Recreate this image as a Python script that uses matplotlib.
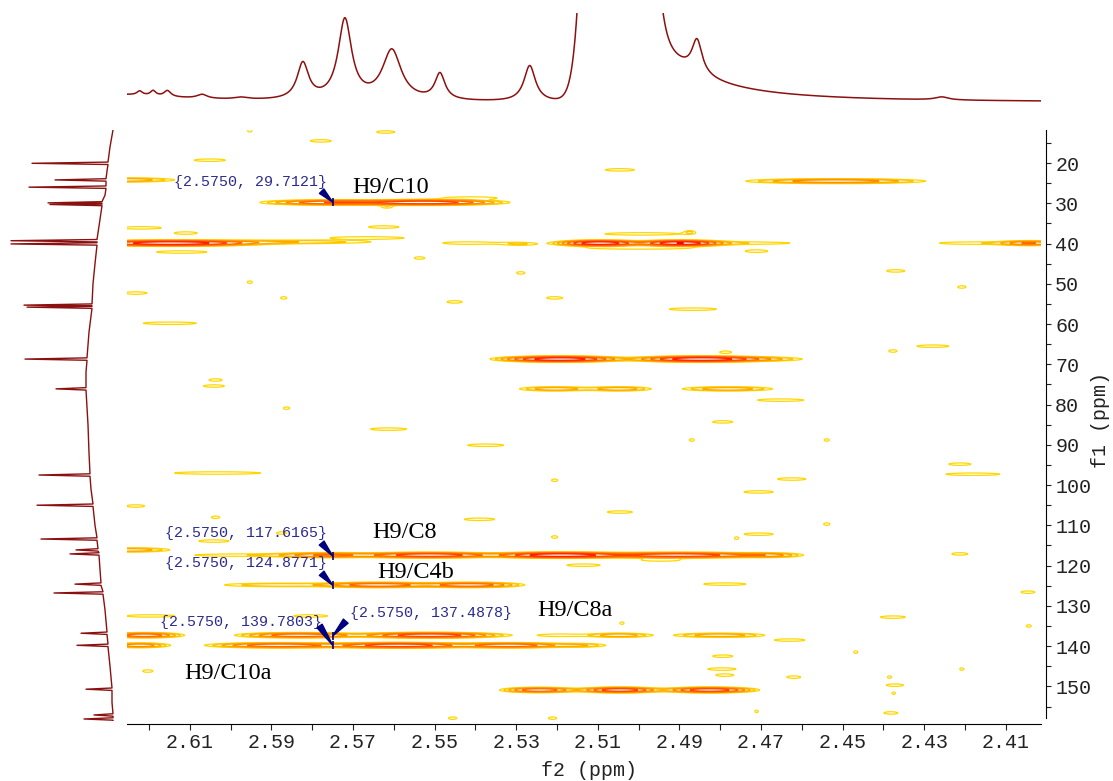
import numpy as np
import matplotlib
matplotlib.use('Agg')
import matplotlib.pyplot as plt
from matplotlib.ticker import FixedLocator, FormatStrFormatter

plt.rcParams['font.family'] = ['Liberation Mono', 'DejaVu Sans']

# axis ranges and ticks
f2_range = (2.6254, 2.4014)
f1_range = (158.6, 11.8)
f2_ticks = [2.61, 2.59, 2.57, 2.55, 2.53, 2.51, 2.49, 2.47, 2.45, 2.43, 2.41]
f2_minor = [2.62, 2.60, 2.58, 2.56, 2.54, 2.52, 2.50, 2.48, 2.46, 2.44, 2.42]
f1_ticks = [20, 30, 40, 50, 60, 70, 80, 90, 100, 110, 120, 130, 140, 150]
f1_minor = [15, 25, 35, 45, 55, 65, 75, 85, 95, 105, 115, 125, 135, 145, 155]

# 1H projection (top trace): peak position, height, half width
h_ppm = [2.6300, 2.6223, 2.6190, 2.6155, 2.6070, 2.5975, 2.5823, 2.5720,
         2.5605, 2.5487, 2.5267, 2.4857, 2.4257]
h_height = [8, 4, 5, 6, 4, 2, 36, 80, 50, 26, 36, 33, 3]
h_hw = [0.02, 0.0008, 0.0008, 0.001, 0.0015, 0.002, 0.0017, 0.002,
        0.0028, 0.0015, 0.0017, 0.0015, 0.002]
h_base = 12.5
solv_ppm = 2.5053
solv_height = 3000
solv_sigma = 0.0037
solv_tail = 112
solv_tail_hw = 0.012

# 13C projection (left trace): line position, tip, foot
c_ppm = [20.07, 24.2, 26.0, 29.9, 30.3, 39.3, 40.1, 55.3, 55.8, 68.7, 76.1,
         97.5, 105.0, 113.4, 116.1, 117.1, 124.6, 126.8, 136.8, 139.8,
         150.7, 157.1, 158.1]
c_tip = [88, 65, 91, 72, 70, 109, 109, 96, 93, 95, 64, 81, 83, 79, 44, 50,
         45, 66, 39, 43, 34, 26, 36]
c_foot = [12, 14, 14, 18, 18, 23, 23, 28, 28, 33, 34, 30, 27, 23, 22, 21,
          19, 17, 13, 12, 8, 7, 7]
bl_ppm = [11.8, 16, 22, 28, 34, 45, 50, 62, 72, 85, 92, 101, 110, 121, 131,
          145, 154, 158.6]
bl_val = [7, 10, 13, 15, 20, 25, 27, 31, 34, 32, 31, 29, 25, 20, 15, 10, 8, 7]

# HMBC cross peaks: f2, f1, length along f2 (ppm), contour level count
cp_f2 = [2.5953, 2.5620, 2.5779, 2.6051, 2.5046, 2.6260, 2.4517,
         2.5757, 2.5524, 2.5412, 2.5617, 2.5625, 2.6220,
         2.6149, 2.5855, 2.6110, 2.6120, 2.5664, 2.5414, 2.5289, 2.5537,
         2.5095, 2.4899, 2.4752, 2.4993, 2.4997, 2.4875, 2.4711,
         2.4041, 2.4176, 2.4370, 2.4208, 2.5206, 2.4867,
         2.6233, 2.5870, 2.5451, 2.5953, 2.5289, 2.6149,
         2.4787, 2.4377, 2.4279,
         2.5193, 2.4850, 2.4703,
         2.5206, 2.5046, 2.4782,
         2.4652, 2.4794, 2.4870, 2.4539,
         2.4213, 2.4181, 2.5206, 2.4625, 2.4706, 2.5046, 2.4539, 2.4706, 2.5206,
         2.6037, 2.6041, 2.5863, 2.5613, 2.5375, 2.6032, 2.6233, 2.6037, 2.5390,
         2.6041, 2.5875, 2.6247,
         2.5953, 2.5757, 2.5512, 2.5193, 2.4899, 2.4679,
         2.5135, 2.4213, 2.4760, 2.4946,
         2.5880, 2.5635, 2.5414,
         2.4789, 2.4046,
         2.6196, 2.5804, 2.4377, 2.4044, 2.5041,
         2.6211, 2.5831, 2.5512, 2.5193, 2.5046, 2.4801, 2.4630,
         2.6223, 2.5880, 2.5586, 2.5316, 2.5144,
         2.6203, 2.4794, 2.4468, 2.4796, 2.4789, 2.4620, 2.4385, 2.4372,
         2.4375, 2.4208, 2.4711, 2.4382, 2.5211, 2.5456,
         2.5243, 2.5046, 2.4826]
cp_f1 = [12.0, 12.3, 14.5, 19.3, 21.7, 24.2, 24.5,
         29.8, 29.8, 28.7, 30.9, 35.9, 36.1,
         39.9, 39.6, 37.4, 42.1, 38.6, 39.9, 40.1, 43.6,
         39.9, 39.9, 39.9, 37.6, 41.1, 37.1, 41.9,
         39.9, 39.9, 46.8, 50.8, 53.5, 56.3,
         52.3, 53.5, 54.5, 49.6, 47.3, 59.8,
         67.0, 66.7, 65.5,
         68.7, 68.7, 68.7,
         76.1, 76.1, 76.1,
         78.9, 84.3, 88.8, 88.8,
         94.8, 97.3, 98.8, 98.5, 101.7, 106.7, 109.7, 112.2, 112.9,
         73.9, 75.4, 80.9, 86.1, 90.1, 97.0, 105.2, 108.0, 108.5,
         113.9, 111.9, 116.1,
         117.4, 117.4, 117.4, 117.4, 117.4, 117.4,
         119.9, 117.1, 113.2, 118.6,
         124.8, 124.8, 124.8,
         124.6, 126.6,
         132.5, 132.5, 132.8, 135.0, 134.3,
         137.3, 137.3, 137.3, 137.3, 137.3, 137.3, 138.5,
         139.8, 139.8, 139.8, 139.8, 139.8,
         146.2, 142.5, 141.5, 145.7, 147.2, 147.7, 147.7, 149.7,
         151.7, 145.7, 156.2, 156.6, 157.9, 157.9,
         150.9, 150.9, 150.9]
cp_len = [0.0010, 0.0044, 0.0051, 0.0076, 0.0071, 0.0245, 0.0441,
          0.0343, 0.0417, 0.0127, 0.0025, 0.0074, 0.0100,
          0.0490, 0.0390, 0.0056, 0.0123, 0.0176, 0.0118, 0.0061, 0.0025,
          0.0245, 0.0245, 0.0245, 0.0179, 0.0240, 0.0020, 0.0054,
          0.0147, 0.0172, 0.0044, 0.0020, 0.0039, 0.0115,
          0.0056, 0.0015, 0.0037, 0.0012, 0.0020, 0.0130,
          0.0029, 0.0020, 0.0078,
          0.0343, 0.0368, 0.0196,
          0.0172, 0.0147, 0.0220,
          0.0113, 0.0049, 0.0012, 0.0012,
          0.0054, 0.0132, 0.0015, 0.0069, 0.0071, 0.0061, 0.0015, 0.0071, 0.0015,
          0.0032, 0.0051, 0.0015, 0.0088, 0.0088, 0.0211, 0.0044, 0.0020, 0.0074,
          0.0074, 0.0025, 0.0196,
          0.0270, 0.0245, 0.0392, 0.0392, 0.0490, 0.0147,
          0.0081, 0.0039, 0.0010, 0.0091,
          0.0270, 0.0294, 0.0270,
          0.0103, 0.0034,
          0.0118, 0.0083, 0.0061, 0.0012, 0.0010,
          0.0196, 0.0319, 0.0392, 0.0093, 0.0147, 0.0220, 0.0074,
          0.0147, 0.0368, 0.0392, 0.0294, 0.0123,
          0.0025, 0.0049, 0.0010, 0.0069, 0.0044, 0.0034, 0.0010, 0.0042,
          0.0008, 0.0010, 0.0008, 0.0034, 0.0020, 0.0020,
          0.0196, 0.0220, 0.0245]
cp_lvl = [0, 0, 0, 0, 0, 2, 3,
          4, 5, 0, 0, 0, 0,
          6, 1, 0, 0, 0, 0, 0, 0,
          6, 6, 0, 0, 0, 0, 0,
          3, 0, 0, 0, 0, 0,
          0, 0, 0, 0, 0, 0,
          0, 0, 0,
          6, 6, 1,
          2, 2, 2,
          0, 0, 0, 0,
          0, 0, 0, 0, 0, 0, 0, 0, 0,
          0, 0, 0, 0, 0, 0, 0, 0, 0,
          0, 0, 2,
          0, 3, 5, 6, 5, 2,
          0, 0, 0, 0,
          1, 4, 4,
          0, 0,
          0, 0, 0, 0, 0,
          4, 4, 5, 0, 2, 2, 0,
          3, 4, 5, 4, 1,
          0, 0, 0, 0, 0, 0, 0, 0,
          0, 0, 0, 0, 0, 0,
          4, 5, 5]

level_colors = ['#FFD700', '#FFC400', '#FFA800', '#FF8C00', '#FF6A00',
                '#FF4500', '#FF2000', '#F50000', '#E8001A', '#DC0030']

# annotations
ann_text = ['{2.5750, 29.7121}', '{2.5750, 117.6165}', '{2.5750, 124.8771}',
            '{2.5750, 139.7803}', '{2.5750, 137.4878}']
ann_f1 = [29.7121, 117.6165, 124.8771, 139.7803, 137.4878]
ann_pos = [(2.5765, 24.7), (2.5765, 111.9), (2.5765, 119.4), (2.5775, 134.0), (2.5708, 131.8)]
ann_ha = ['right', 'right', 'right', 'right', 'left']
ann_tail = [(2.5777, 27.0), (2.5777, 114.4), (2.5777, 121.9), (2.5782, 135.0), (2.5718, 133.8)]
lab_text = ['H9/C10', 'H9/C8', 'H9/C4b', 'H9/C8a', 'H9/C10a']
lab_pos = [(2.5608, 26.2), (2.5573, 111.9), (2.5546, 121.6), (2.5157, 131.1), (2.6007, 146.7)]

W, H = 1113, 781
fig = plt.figure(figsize=(W / 100, H / 100), dpi=100)

def box(x0, y0, x1, y1):
    return [x0 / W, 1 - y1 / H, (x1 - x0) / W, (y1 - y0) / H]

ax = fig.add_axes(box(127, 130, 1041, 721))
ax_top = fig.add_axes(box(127, 13, 1041, 115))
ax_left = fig.add_axes(box(0, 130, 120, 721))

# 2D contour map
g2 = np.linspace(f2_range[1], f2_range[0], 1400)
g1 = np.linspace(f1_range[1], f1_range[0], 2400)
Z = np.zeros((g1.size, g2.size))
r = 1.5
sy = 0.35
for c2, c1, ln, lv in zip(cp_f2, cp_f1, cp_len, cp_lvl):
    A = r ** (lv + 0.9)
    sx = (ln / 2) / np.sqrt(2 * np.log(A))
    gx = np.exp(-0.5 * ((g2 - c2) / sx) ** 2)
    rows = np.abs(g1 - c1) < 5 * sy
    gy = np.exp(-0.5 * ((g1[rows] - c1) / sy) ** 2)
    Z[rows] += A * np.outer(gy, gx)

levels = r ** np.arange(len(level_colors))
ax.contour(g2, g1, Z, levels=levels, colors=level_colors, linewidths=0.9)

ax.set_xlim(*f2_range)
ax.set_ylim(*f1_range)
for s in ['top', 'left']:
    ax.spines[s].set_visible(False)
ax.spines['bottom'].set_position(('outward', 2.2))
ax.spines['right'].set_position(('outward', 3.6))
ax.spines['right'].set_bounds(157.9, 11.8)
ax.spines['bottom'].set_linewidth(0.8)
ax.spines['right'].set_linewidth(0.8)
ax.yaxis.tick_right()
ax.xaxis.set_major_locator(FixedLocator(f2_ticks))
ax.xaxis.set_minor_locator(FixedLocator(f2_minor))
ax.yaxis.set_major_locator(FixedLocator(f1_ticks))
ax.yaxis.set_minor_locator(FixedLocator(f1_minor))
ax.xaxis.set_major_formatter(FormatStrFormatter('%.2f'))
ax.yaxis.set_major_formatter(FormatStrFormatter('%d'))
ax.tick_params(axis='x', which='both', direction='out', length=4.3, width=0.8,
               labelsize=14.4, pad=2, colors='#222222')
ax.tick_params(axis='y', which='both', direction='out', length=3.6, width=0.8,
               labelsize=14.4, pad=3, colors='#222222')

for txt, (px, py), ha, f1v, (tx, ty) in zip(ann_text, ann_pos, ann_ha, ann_f1, ann_tail):
    ax.text(px, py, txt, ha=ha, va='center', fontsize=10.8, color='#2B2B8F',
            family='Liberation Mono')
    ax.annotate('', xy=(2.575, f1v), xytext=(tx, ty),
                arrowprops=dict(arrowstyle='wedge,tail_width=0.45', color='#000080',
                                shrinkA=0, shrinkB=0))
    ax.plot([2.575], [f1v], marker='|', markersize=6, color='#000080', mew=1.2)

for txt, (px, py) in zip(lab_text, lab_pos):
    ax.text(px, py, txt, ha='center', va='center', fontsize=17.5, color='black',
            family='Liberation Serif')

fig.text(589 / W, 1 - 770 / H, 'f2 (ppm)', ha='center', va='center',
         fontsize=14.4, color='#222222')
fig.text(1100 / W, 1 - 420 / H, 'f1 (ppm)', ha='center', va='center',
         fontsize=14.4, rotation=90, color='#222222')

# top 1H trace
xs = np.linspace(f2_range[0], f2_range[1], 3000)
ys = np.full_like(xs, h_base)
for p, hgt, hw in zip(h_ppm, h_height, h_hw):
    ys += hgt * hw ** 2 / ((xs - p) ** 2 + hw ** 2)
ys += solv_height * np.exp(-0.5 * ((xs - solv_ppm) / solv_sigma) ** 2)
ys += np.where(xs < solv_ppm,
               solv_tail * solv_tail_hw ** 2 / ((xs - solv_ppm) ** 2 + solv_tail_hw ** 2), 0)
ax_top.plot(xs, ys, color='#8B1010', lw=1.1)
ax_top.set_xlim(*f2_range)
ax_top.set_ylim(0, 102)
ax_top.axis('off')

# left 13C trace
pts = list(zip(bl_ppm, bl_val))
d = 0.3
for p, tip, foot in zip(c_ppm, c_tip, c_foot):
    pts += [(p - d, foot), (p, tip), (p + d, foot)]
pts.sort()
ax_left.plot([v for _, v in pts], [p for p, _ in pts], color='#8B1010', lw=1.0)
ax_left.set_xlim(120, 0)
ax_left.set_ylim(*f1_range)
ax_left.axis('off')

fig.savefig('out.png', dpi=100)
